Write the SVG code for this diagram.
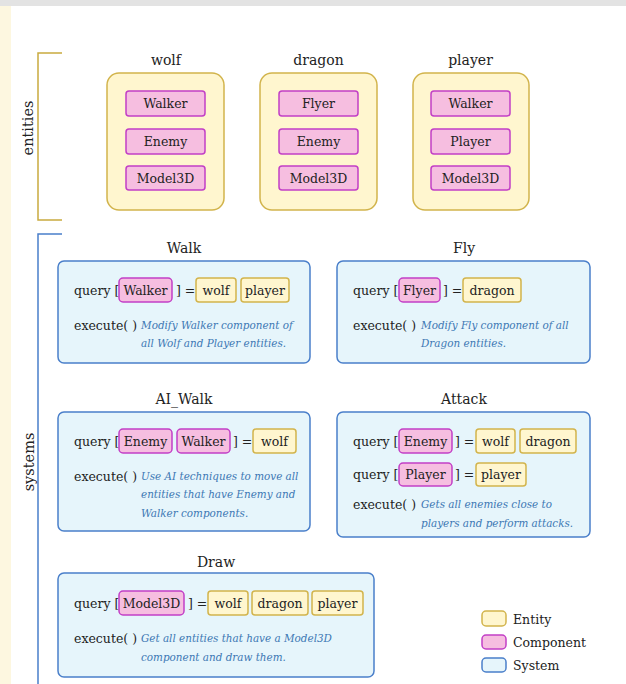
<svg xmlns="http://www.w3.org/2000/svg" width="626" height="684" viewBox="0 0 626 684">
<style>
text{font-family:"DejaVu Serif","Liberation Serif",serif;fill:#222;dominant-baseline:central}
.t{font-size:14px;text-anchor:middle}
.c{font-size:12.5px;text-anchor:middle}
.q{font-size:12.5px}
.d{font-size:10.4px;font-style:italic;fill:#3d78b4}
.ent{fill:#fff6cf;stroke:#d2b44c;stroke-width:1.5}
.cmp{fill:#f6bee0;stroke:#c23fc6;stroke-width:1.5}
.sys{fill:#e6f5fb;stroke:#4a7fca;stroke-width:1.5}
.side{font-size:14.5px;text-anchor:middle}
</style>
<rect x="0" y="0" width="626" height="684" fill="#ffffff"/>
<rect x="0" y="0" width="626" height="6" fill="#e3e3e3"/>
<rect x="0" y="6" width="11" height="678" fill="#fdf7e0"/>
<g id="connectors" fill="none" stroke-width="1.5">
<path d="M62 53H38V220H62" stroke="#c9ab3f"/>
<path d="M62 234H38V684" stroke="#4a7fca"/>
</g>
<g id="label-entities"><text class="side" transform="translate(28 128) rotate(-90)">entities</text></g>
<g id="label-systems"><text class="side" transform="translate(29 462) rotate(-90)">systems</text></g>
<g id="wolf">
<text class="t" x="166" y="60">wolf</text>
<rect class="ent" x="107" y="73" width="117" height="137" rx="12"/>
<rect class="cmp" x="126" y="91" width="79" height="25" rx="3"/><text class="c" x="165.5" y="103.5">Walker</text>
<rect class="cmp" x="126" y="129" width="79" height="25" rx="3"/><text class="c" x="165.5" y="141.5">Enemy</text>
<rect class="cmp" x="126" y="166" width="79" height="24" rx="3"/><text class="c" x="165.5" y="178">Model3D</text>
</g>
<g id="dragon">
<text class="t" x="318.5" y="60">dragon</text>
<rect class="ent" x="260" y="73" width="117" height="137" rx="12"/>
<rect class="cmp" x="279" y="91" width="79" height="25" rx="3"/><text class="c" x="318.5" y="103.5">Flyer</text>
<rect class="cmp" x="279" y="129" width="79" height="25" rx="3"/><text class="c" x="318.5" y="141.5">Enemy</text>
<rect class="cmp" x="279" y="166" width="79" height="24" rx="3"/><text class="c" x="318.5" y="178">Model3D</text>
</g>
<g id="player">
<text class="t" x="470.5" y="60">player</text>
<rect class="ent" x="413" y="73" width="116" height="137" rx="12"/>
<rect class="cmp" x="431" y="91" width="79" height="25" rx="3"/><text class="c" x="470.5" y="103.5">Walker</text>
<rect class="cmp" x="431" y="129" width="79" height="25" rx="3"/><text class="c" x="470.5" y="141.5">Player</text>
<rect class="cmp" x="431" y="166" width="79" height="24" rx="3"/><text class="c" x="470.5" y="178">Model3D</text>
</g>
<g id="walk">
<text class="t" x="184" y="248">Walk</text>
<rect class="sys" x="58" y="261" width="252" height="102" rx="6"/>
<text class="q" x="74" y="290">query [</text>
<rect class="cmp" x="119" y="278" width="53" height="24" rx="4"/><text class="c" x="145.5" y="290">Walker</text>
<text class="q" x="176" y="290">] =</text>
<rect class="ent" x="196" y="278" width="40" height="24" rx="3"/><text class="c" x="216" y="290">wolf</text>
<rect class="ent" x="241" y="278" width="48" height="24" rx="3"/><text class="c" x="265" y="290">player</text>
<text class="q" x="74" y="325">execute( )</text>
<text class="d" x="141" y="325">Modify Walker component of</text>
<text class="d" x="141" y="343">all Wolf and Player entities.</text>
</g>
<g id="fly">
<text class="t" x="464" y="248">Fly</text>
<rect class="sys" x="337" y="261" width="253" height="102" rx="6"/>
<text class="q" x="353" y="290">query [</text>
<rect class="cmp" x="399" y="278" width="41" height="24" rx="4"/><text class="c" x="419.5" y="290">Flyer</text>
<text class="q" x="443" y="290">] =</text>
<rect class="ent" x="463" y="278" width="58" height="24" rx="3"/><text class="c" x="492" y="290">dragon</text>
<text class="q" x="353" y="325">execute( )</text>
<text class="d" x="421" y="325">Modify Fly component of all</text>
<text class="d" x="421" y="343">Dragon entities.</text>
</g>
<g id="ai_walk">
<text class="t" x="184" y="399">AI_Walk</text>
<rect class="sys" x="58" y="412" width="252" height="119" rx="6"/>
<text class="q" x="74" y="441">query [</text>
<rect class="cmp" x="119" y="429" width="53" height="24" rx="4"/><text class="c" x="145.5" y="441">Enemy</text>
<rect class="cmp" x="177" y="429" width="53" height="24" rx="4"/><text class="c" x="203.5" y="441">Walker</text>
<text class="q" x="233" y="441">] =</text>
<rect class="ent" x="253" y="429" width="43" height="24" rx="3"/><text class="c" x="274.5" y="441">wolf</text>
<text class="q" x="74" y="476">execute( )</text>
<text class="d" x="141" y="476">Use AI techniques to move all</text>
<text class="d" x="141" y="494">entities that have Enemy and</text>
<text class="d" x="141" y="513">Walker components.</text>
</g>
<g id="attack">
<text class="t" x="464" y="399">Attack</text>
<rect class="sys" x="337" y="412" width="253" height="125" rx="6"/>
<text class="q" x="353" y="441">query [</text>
<rect class="cmp" x="399" y="429" width="53" height="24" rx="4"/><text class="c" x="425.5" y="441">Enemy</text>
<text class="q" x="455" y="441">] =</text>
<rect class="ent" x="476" y="429" width="39" height="24" rx="3"/><text class="c" x="495.5" y="441">wolf</text>
<rect class="ent" x="520" y="429" width="56" height="24" rx="3"/><text class="c" x="548" y="441">dragon</text>
<text class="q" x="353" y="474">query [</text>
<rect class="cmp" x="399" y="463" width="53" height="23" rx="4"/><text class="c" x="425.5" y="474.5">Player</text>
<text class="q" x="455" y="474">] =</text>
<rect class="ent" x="476" y="463" width="50" height="23" rx="3"/><text class="c" x="501" y="474.5">player</text>
<text class="q" x="353" y="504">execute( )</text>
<text class="d" x="421" y="504">Gets all enemies close to</text>
<text class="d" x="421" y="523">players and perform attacks.</text>
</g>
<g id="draw">
<text class="t" x="216" y="562">Draw</text>
<rect class="sys" x="58" y="573" width="316" height="104" rx="6"/>
<text class="q" x="74" y="603">query [</text>
<rect class="cmp" x="119" y="591" width="65" height="24" rx="4"/><text class="c" x="151.5" y="603">Model3D</text>
<text class="q" x="188" y="603">] =</text>
<rect class="ent" x="208" y="591" width="40" height="24" rx="3"/><text class="c" x="228" y="603">wolf</text>
<rect class="ent" x="252" y="591" width="56" height="24" rx="3"/><text class="c" x="280" y="603">dragon</text>
<rect class="ent" x="312" y="591" width="51" height="24" rx="3"/><text class="c" x="337.5" y="603">player</text>
<text class="q" x="74" y="638">execute( )</text>
<text class="d" x="141" y="638">Get all entities that have a Model3D</text>
<text class="d" x="141" y="657">component and draw them.</text>
</g>
<g id="legend">
<rect class="ent" x="482" y="611" width="24" height="15" rx="4"/><text class="q" x="513" y="619">Entity</text>
<rect class="cmp" x="482" y="635" width="24" height="14" rx="4"/><text class="q" x="513" y="642">Component</text>
<rect class="sys" x="482" y="658" width="24" height="14" rx="4"/><text class="q" x="513" y="665">System</text>
</g>
</svg>
